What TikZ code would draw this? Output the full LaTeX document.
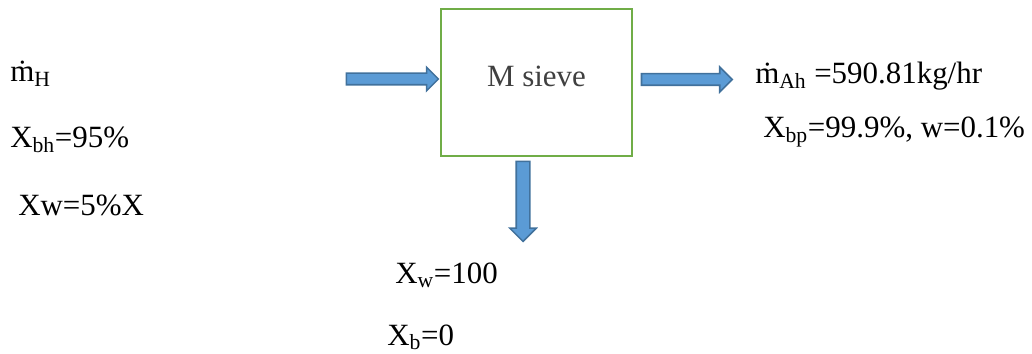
\documentclass[tikz,border=0pt]{standalone}
\usepackage{fontspec}
\setmainfont{Liberation Serif}
\usetikzlibrary{shapes.arrows,calc}
\definecolor{boxgreen}{HTML}{70AD47}
\definecolor{flowfill}{HTML}{5B9BD5}
\definecolor{flowline}{HTML}{41719C}
\definecolor{sievetext}{HTML}{404040}
\tikzset{
  unit/.style={draw=boxgreen,line width=1.4pt,minimum width=4.775cm,minimum height=3.675cm,inner sep=0pt,text depth=0.3cm,text=sievetext},
  flow/.style={single arrow,draw=flowline,fill=flowfill,line width=1.1pt,inner xsep=0pt,sloped},
  lbl/.style={anchor=base west,inner sep=0pt}
}

\begin{document}
\begin{tikzpicture}[x=0.025cm,y=-0.025cm,font=\rmfamily\fontsize{22}{26}\selectfont]
    \useasboundingbox (0,0) rectangle (1032,354);
    \node[unit] (sieve) at (536.5,82.5) {M sieve};
    \coordinate (inlet) at (344,79);
    \coordinate (outlet) at (729,79.5);
    \coordinate (drain) at (523,238);
    \path (inlet) -- ($(sieve.west |- inlet)+(-5,0)$) node[flow,midway,minimum height=2.3cm,inner ysep=0.125cm,single arrow head extend=0.15cm] (feed) {};
    \path ($(sieve.east |- outlet)+(6,0)$) -- (outlet) node[flow,midway,minimum height=2.27cm,inner ysep=0.125cm,single arrow head extend=0.17cm] (product) {};
    \path ($(sieve.south -| drain)+(0,1)$) -- (drain) node[flow,midway,minimum height=2cm,inner ysep=0.15cm,single arrow head extend=0.16cm] (waste) {};
    \node[lbl] (mfeed) at (10,82) {\.{m}\textsubscript{H}};
    \node[lbl] (xbfeed) at (10,148) {X\textsubscript{bh}=95\%};
    \node[lbl] (xwfeed) at (18,216) {Xw=5\%X};
    \node[lbl] (mprod) at (755,84) {\.{m}\textsubscript{Ah} =590.81kg/hr};
    \node[lbl] (xbprod) at (763,138) {X\textsubscript{bp}=99.9\%, w=0.1\%};
    \node[lbl] (xwwaste) at (395,283) {X\textsubscript{w}=100};
    \node[lbl] (xbwaste) at (387,345) {X\textsubscript{b}=0};
  \end{tikzpicture}
\end{document}
